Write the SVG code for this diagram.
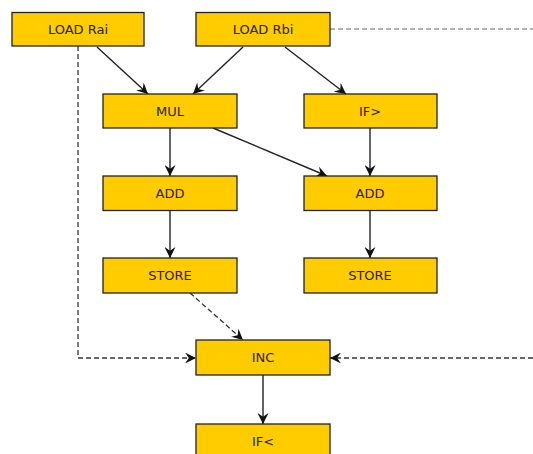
<svg xmlns="http://www.w3.org/2000/svg" width="533" height="454" viewBox="0 0 533 454">
<defs>
<marker id="vee" viewBox="0 0 10 10" refX="10" refY="5" markerWidth="11" markerHeight="11" markerUnits="userSpaceOnUse" orient="auto">
<path d="M0,0 L10,5 L0,10 L3.5,5 z" fill="#111"/>
</marker>
<style>
.n rect{fill:#ffcc00;stroke:#222;stroke-width:1.3}
.n text{font-family:"DejaVu Sans",sans-serif;font-size:13px;fill:#2a2200;text-anchor:middle;dominant-baseline:central}
.e{stroke:#222;stroke-width:1.4;fill:none;marker-end:url(#vee)}
.d{stroke:#666;stroke-width:1.1;fill:none;stroke-dasharray:5,3}
.da{stroke:#333;stroke-width:1.3;fill:none;stroke-dasharray:5,3;marker-end:url(#vee)}
</style>
</defs>
<rect width="533" height="454" fill="#fff"/>
<g id="connectors">
<line class="e" x1="97" y1="47" x2="148" y2="94"/>
<line class="e" x1="243" y1="47" x2="193" y2="94"/>
<line class="e" x1="285" y1="47" x2="346" y2="94"/>
<line class="e" x1="170" y1="128" x2="170" y2="176"/>
<line class="e" x1="213" y1="128" x2="327" y2="176"/>
<line class="e" x1="370" y1="128" x2="370" y2="176"/>
<line class="e" x1="170" y1="211" x2="170" y2="258"/>
<line class="e" x1="370" y1="211" x2="370" y2="258"/>
<line class="da" x1="190" y1="293" x2="243" y2="340"/>
<line class="e" x1="263" y1="375" x2="263" y2="424"/>
<polyline class="da" points="78,46 78,358 196,358"/>
<line class="d" x1="330" y1="29" x2="533" y2="29"/>
<line class="da" x1="533" y1="358" x2="330" y2="358"/>
</g>
<g id="loadRai" class="n"><rect x="12" y="12.5" width="132" height="33.5"/><text x="78" y="29">LOAD Rai</text></g>
<g id="loadRbi" class="n"><rect x="196" y="12.5" width="134" height="33.5"/><text x="263" y="29">LOAD Rbi</text></g>
<g id="mul" class="n"><rect x="103" y="94" width="134" height="34"/><text x="170" y="111">MUL</text></g>
<g id="ifgt" class="n"><rect x="304" y="94" width="133" height="34"/><text x="370" y="111">IF&gt;</text></g>
<g id="add1" class="n"><rect x="103" y="176" width="134" height="34.5"/><text x="170" y="193.5">ADD</text></g>
<g id="add2" class="n"><rect x="304" y="176" width="133" height="34.5"/><text x="370" y="193.5">ADD</text></g>
<g id="store1" class="n"><rect x="103" y="258" width="134" height="35"/><text x="170" y="275.5">STORE</text></g>
<g id="store2" class="n"><rect x="304" y="258" width="133" height="35"/><text x="370" y="275.5">STORE</text></g>
<g id="inc" class="n"><rect x="196" y="340" width="134" height="35"/><text x="263" y="357.5">INC</text></g>
<g id="iflt" class="n"><rect x="196" y="424" width="134" height="35"/><text x="263" y="441.5">IF&lt;</text></g>
</svg>
